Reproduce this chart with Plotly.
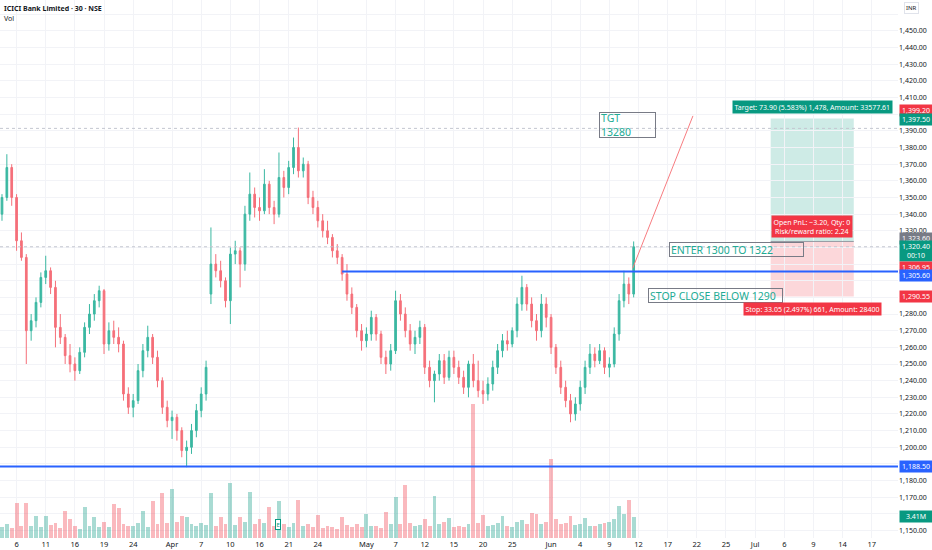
import plotly.graph_objects as go

# one bar here = roughly half a trading session
opens = [1340, 1350, 1368, 1350, 1324, 1314, 1270, 1276, 1287, 1302,
         1306, 1296, 1272, 1266, 1255, 1250, 1246, 1257, 1272, 1280,
         1288, 1294, 1262, 1270, 1266, 1262, 1232, 1224, 1228, 1246,
         1258, 1266, 1254, 1240, 1224, 1216, 1218, 1210, 1198, 1200,
         1210, 1222, 1232, 1292, 1310, 1306, 1300, 1288, 1316, 1318,
         1310, 1340, 1352, 1344, 1342, 1358, 1344, 1340, 1362, 1356,
         1368, 1380, 1366, 1370, 1350, 1344, 1336, 1330, 1326, 1318,
         1314, 1304, 1292, 1284, 1270, 1264, 1268, 1278, 1268, 1254,
         1250, 1258, 1288, 1280, 1270, 1262, 1266, 1272, 1248, 1240,
         1244, 1252, 1242, 1254, 1248, 1242, 1236, 1250, 1240, 1234,
         1232, 1238, 1248, 1258, 1264, 1262, 1270, 1286, 1296, 1286,
         1276, 1270, 1286, 1278, 1260, 1248, 1236, 1228, 1220, 1226,
         1236, 1248, 1256, 1252, 1258, 1248, 1250, 1268, 1288, 1298, 1292]
highs = [1352, 1376, 1370, 1352, 1329, 1316, 1280, 1290, 1305, 1315,
         1308, 1300, 1280, 1268, 1262, 1254, 1260, 1275, 1286, 1292,
         1297, 1295, 1275, 1276, 1272, 1264, 1236, 1232, 1250, 1262,
         1273, 1268, 1258, 1242, 1228, 1222, 1220, 1212, 1204, 1214,
         1226, 1236, 1252, 1332, 1316, 1312, 1302, 1320, 1324, 1320,
         1345, 1365, 1356, 1350, 1367, 1360, 1348, 1377, 1366, 1372,
         1386, 1392, 1374, 1372, 1354, 1348, 1340, 1336, 1328, 1322,
         1316, 1310, 1296, 1286, 1274, 1272, 1282, 1280, 1270, 1258,
         1262, 1294, 1292, 1284, 1274, 1270, 1276, 1274, 1252, 1246,
         1256, 1256, 1258, 1258, 1252, 1246, 1252, 1256, 1252, 1240,
         1242, 1252, 1262, 1268, 1270, 1272, 1290, 1303, 1298, 1290,
         1280, 1292, 1290, 1280, 1262, 1252, 1240, 1232, 1230, 1240,
         1252, 1262, 1260, 1262, 1260, 1254, 1272, 1292, 1306, 1302, 1323.6]
lows = [1336, 1348, 1345, 1318, 1312, 1250, 1264, 1272, 1284, 1298,
        1292, 1260, 1262, 1250, 1245, 1240, 1244, 1254, 1268, 1276,
        1284, 1256, 1258, 1262, 1257, 1228, 1220, 1218, 1226, 1242,
        1254, 1250, 1236, 1220, 1212, 1205, 1204, 1194, 1188, 1196,
        1206, 1218, 1228, 1286, 1302, 1296, 1284, 1274, 1310, 1296,
        1306, 1336, 1338, 1336, 1340, 1340, 1334, 1338, 1350, 1352,
        1364, 1362, 1362, 1346, 1340, 1332, 1326, 1322, 1314, 1310,
        1300, 1288, 1280, 1266, 1258, 1260, 1264, 1264, 1250, 1244,
        1246, 1256, 1276, 1266, 1258, 1256, 1262, 1244, 1236, 1227,
        1240, 1238, 1240, 1244, 1238, 1232, 1230, 1236, 1230, 1226,
        1228, 1234, 1244, 1254, 1258, 1260, 1266, 1282, 1282, 1272,
        1264, 1266, 1272, 1256, 1244, 1232, 1224, 1215, 1216, 1222,
        1232, 1244, 1248, 1250, 1244, 1242, 1248, 1264, 1284, 1286, 1290]
closes = [1350, 1368, 1350, 1324, 1314, 1270, 1276, 1287, 1302, 1306,
          1296, 1272, 1266, 1255, 1250, 1246, 1257, 1272, 1280, 1288,
          1294, 1262, 1270, 1266, 1262, 1232, 1224, 1228, 1246, 1258,
          1266, 1254, 1240, 1224, 1216, 1218, 1210, 1198, 1200, 1210,
          1222, 1232, 1248, 1310, 1306, 1300, 1288, 1316, 1318, 1310,
          1340, 1352, 1344, 1342, 1358, 1344, 1340, 1362, 1356, 1368,
          1380, 1366, 1370, 1350, 1344, 1336, 1330, 1326, 1318, 1314,
          1304, 1292, 1284, 1270, 1264, 1268, 1278, 1268, 1254, 1250,
          1258, 1288, 1280, 1270, 1262, 1266, 1272, 1248, 1240, 1244,
          1252, 1242, 1254, 1248, 1242, 1236, 1250, 1240, 1234, 1232,
          1238, 1248, 1258, 1264, 1262, 1270, 1286, 1296, 1286, 1276,
          1270, 1286, 1278, 1260, 1248, 1236, 1228, 1220, 1226, 1236,
          1248, 1256, 1252, 1258, 1248, 1250, 1268, 1288, 1298, 1292, 1320.4]
# volume in millions
volumes = [1.8, 2.2, 1.6, 5.7, 2.0, 5.7, 1.9, 3.6, 1.7, 3.6,
           2.1, 2.4, 1.6, 4.4, 3.1, 1.9, 1.5, 5.0, 2.0, 3.4,
           1.7, 2.6, 1.8, 5.5, 4.9, 2.3, 1.9, 2.0, 2.4, 4.4,
           1.8, 6.0, 2.2, 7.3, 2.5, 7.9, 2.6, 3.6, 3.4, 2.2,
           1.9, 2.4, 2.1, 7.3, 2.0, 3.4, 2.3, 8.9, 2.1, 3.4,
           2.6, 7.5, 2.2, 3.0, 2.4, 5.0, 1.9, 6.0, 2.2, 1.8,
           2.5, 6.2, 1.9, 2.3, 1.7, 3.7, 1.6, 2.0, 1.8, 1.5,
           3.4, 2.1, 1.7, 2.2, 1.8, 3.9, 1.9, 2.0, 1.6, 4.2,
           2.3, 6.6, 2.2, 8.6, 2.5, 1.9, 2.1, 3.1, 2.0, 6.8,
           2.2, 2.6, 3.2, 1.8, 2.0, 1.7, 2.3, 21.7, 2.4, 3.7,
           1.9, 2.1, 2.4, 3.6, 2.0, 1.8, 2.6, 2.9, 2.2, 4.1,
           3.9, 2.3, 2.6, 12.8, 3.0, 2.2, 2.4, 3.6, 2.1, 2.3,
           3.2, 2.0, 1.9, 2.2, 2.4, 2.6, 3.0, 5.2, 3.9, 6.2, 3.41]
bars = list(range(len(closes)))

tick_bars = [3, 9, 15, 21, 27, 35, 41, 47, 53, 59, 65, 75, 81, 87, 93, 99, 105,
             113, 119, 125, 131, 137, 143, 149, 155, 161, 167, 173, 179]
tick_labels = ["6", "11", "16", "19", "24", "Apr", "7", "10", "16", "21", "24",
               "May", "7", "12", "15", "20", "25", "Jun", "4", "9", "12", "17",
               "22", "25", "Jul", "6", "9", "14", "17"]

support = 1188.50
resistance = 1305.60
resistance_from = 70
entry = 1323.60
target = 1397.50
stop = 1290.55
last_price = 1320.40
high_line = 1391.5
trend_x = [129.8, 142.2]
trend_y = [1307.5, 1399.0]
pos_x = [158.2, 175.3]
earnings_bar = 56.8

X_RANGE = [-0.41, 184.4]
Y_RANGE = [1145.5, 1468.6]
GREEN = "#089981"
RED = "#f23645"
BLUE = "#2962ff"
TEAL_TXT = "#22ab94"
FONT = "Noto Sans"

vol_colors = ["rgba(8,153,129,0.35)" if c >= o else "rgba(242,54,69,0.35)"
              for o, c in zip(opens, closes)]

fig = go.Figure()
fig.add_trace(go.Bar(x=bars, y=volumes, marker_color=vol_colors, marker_line_width=0,
                     width=0.8, yaxis="y2", hoverinfo="skip"))
fig.add_trace(go.Candlestick(
    x=bars, open=opens, high=highs, low=lows, close=closes,
    increasing=dict(line=dict(color="#3bb8a2", width=1), fillcolor="#3bb8a2"),
    decreasing=dict(line=dict(color="#f5707a", width=1), fillcolor="#f5707a"),
    whiskerwidth=0))

shapes = [
    # position tool zones
    dict(type="rect", xref="x", yref="y", x0=pos_x[0], x1=pos_x[1], y0=entry, y1=target,
         fillcolor="rgba(8,153,129,0.2)", line_width=0, layer="below"),
    dict(type="rect", xref="x", yref="y", x0=pos_x[0], x1=pos_x[1], y0=stop, y1=entry,
         fillcolor="rgba(242,54,69,0.2)", line_width=0, layer="below"),
    dict(type="line", xref="x", yref="y", x0=pos_x[0], x1=pos_x[1], y0=entry, y1=entry,
         line=dict(color="#9598a1", width=1)),
    # dotted price lines
    dict(type="line", xref="paper", yref="y", x0=0, x1=1, y0=high_line, y1=high_line,
         line=dict(color="#c3c6d0", width=1, dash="dot")),
    dict(type="line", xref="paper", yref="y", x0=0, x1=1, y0=last_price, y1=last_price,
         line=dict(color="#c3c6d0", width=1, dash="dot")),
    # horizontal levels
    dict(type="line", xref="paper", yref="y", x0=0, x1=1, y0=support, y1=support,
         line=dict(color=BLUE, width=2)),
    dict(type="line", xref="x", yref="y", x0=resistance_from, x1=X_RANGE[1],
         y0=resistance, y1=resistance, line=dict(color=BLUE, width=2)),
    # projection line
    dict(type="line", xref="x", yref="y", x0=trend_x[0], x1=trend_x[1],
         y0=trend_y[0], y1=trend_y[1], line=dict(color="#f77c80", width=1)),
]

notes = []
# text boxes drawn on the chart
for txt, x, y, w, h in [("TGT<br>13280", 122.8, 1393.5, 53, 22),
                        ("ENTER 1300 TO 1322", 137.2, 1318.5, 131, 11),
                        ("STOP CLOSE BELOW 1290", 132.9, 1291.4, 131, 11)]:
    notes.append(dict(x=x, y=y, xref="x", yref="y", text=txt, showarrow=False,
                      xanchor="left", yanchor="middle", align="left", width=w, height=h,
                      font=dict(family=FONT, size=10.5, color=TEAL_TXT),
                      bordercolor="#787b86", borderwidth=1, borderpad=1,
                      bgcolor="rgba(255,255,255,0)"))

# position tool labels
for txt, y, col in [("Target: 73.90 (5.583%) 1,478, Amount: 33577.61", 1404.4, GREEN),
                    ("Open PnL: \u22123.20, Qty: 0<br>Risk/reward ratio: 2.24", 1332.3, RED),
                    ("Stop: 33.05 (2.497%) 661, Amount: 28400", 1283.0, RED)]:
    notes.append(dict(x=(pos_x[0] + pos_x[1]) / 2, y=y, xref="x", yref="y", text=txt,
                      showarrow=False, font=dict(family=FONT, size=7, color="white"),
                      bgcolor=col, borderpad=1.5))

# right axis price tags
for txt, val, col, shift, ref in [("1,399.20", 1399.20, RED, 5, "y"),
                                  ("1,397.50", target, GREEN, -1, "y"),
                                  ("1,323.60", entry, "#787b86", 3, "y"),
                                  ("1,320.40<br>00:10", last_price, GREEN, -4, "y"),
                                  ("1,306.95", 1306.95, RED, 2, "y"),
                                  ("1,305.60", resistance, BLUE, -4, "y"),
                                  ("1,290.55", stop, RED, 0, "y"),
                                  ("1,188.50", support, BLUE, 0, "y"),
                                  ("3.41M", volumes[-1], GREEN, 0, "y2")]:
    notes.append(dict(x=1, y=val, xref="paper", yref=ref, text=txt, showarrow=False,
                      xanchor="left", yanchor="middle", xshift=1, yshift=shift,
                      font=dict(family=FONT, size=7, color="white"), bgcolor=col,
                      borderpad=1, width=30))

notes += [
    dict(x=0, y=1, xref="paper", yref="paper", xanchor="left", yanchor="top",
         xshift=2, yshift=-2, showarrow=False,
         text="<b>ICICI Bank Limited \u00b7 30 \u00b7 NSE</b>",
         font=dict(family=FONT, size=7, color="#131722")),
    dict(x=0, y=1, xref="paper", yref="paper", xanchor="left", yanchor="top",
         xshift=2, yshift=-12, showarrow=False, text="Vol",
         font=dict(family=FONT, size=7, color="#131722")),
    dict(x=1, y=1, xref="paper", yref="paper", xanchor="left", yanchor="top",
         xshift=6, yshift=-2, showarrow=False, text="INR",
         font=dict(family=FONT, size=6, color="#131722"), bgcolor="white",
         bordercolor="#e0e3eb", borderwidth=1, borderpad=1),
    dict(x=earnings_bar, y=0.015, xref="x", yref="paper", showarrow=False, text="E",
         font=dict(family=FONT, size=6, color=GREEN), bgcolor="white",
         bordercolor=GREEN, borderwidth=1, borderpad=0.5),
]

price_ticks = list(range(1150, 1470, 10))
hidden = {1460, 1400, 1320, 1310, 1300, 1290, 1190, 1160}
price_text = ["" if p in hidden else f"{p:,.2f}" for p in price_ticks]

fig.update_layout(
    width=932, height=550,
    margin=dict(l=0, r=34, t=0, b=12),
    paper_bgcolor="white", plot_bgcolor="white",
    showlegend=False, shapes=shapes, annotations=notes,
    boxgap=0.5,
    xaxis=dict(range=X_RANGE, tickvals=tick_bars, ticktext=tick_labels,
               showgrid=True, gridcolor="#f2f3f7", zeroline=False,
               rangeslider=dict(visible=False), ticks="", showline=False,
               tickfont=dict(family=FONT, size=7.5, color="#131722"), automargin=False),
    yaxis=dict(range=Y_RANGE, side="right", tickvals=price_ticks, ticktext=price_text,
               showgrid=True, gridcolor="#f2f3f7", zeroline=False, ticks="",
               tickfont=dict(family=FONT, size=7, color="#131722"), automargin=False),
    yaxis2=dict(range=[0, 87], overlaying="y", visible=False),
    bargap=0,
)

# drop the page's default body margin so the chart sits at the window corner
fig.write_html("out.html", config={"displayModeBar": False},
               post_script="document.body.style.margin='0';")
